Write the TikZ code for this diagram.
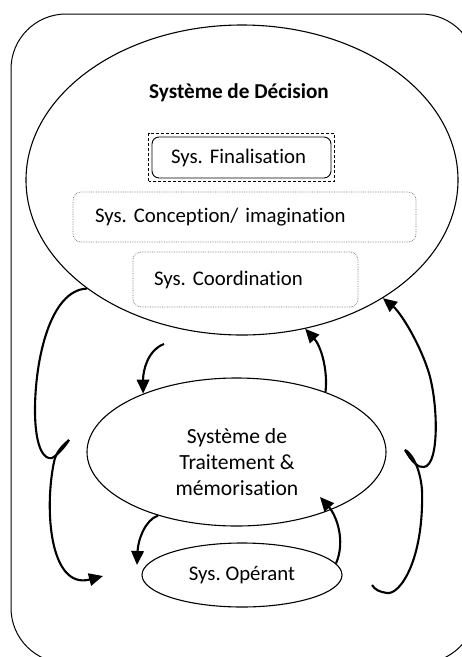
\documentclass[tikz,border=0pt]{standalone}
\usepackage{fontspec}
\setmainfont{Carlito}[Ligatures=NoCommon]
\usetikzlibrary{arrows.meta,shapes.geometric}
\tikzset{
  ell/.style={draw, ellipse, inner sep=0pt, line width=1.1pt},
  grbox/.style={draw=black!55, densely dotted, line width=0.7pt, rounded corners=8pt, align=left, inner ysep=0pt},
  conn/.style={line width=2.1pt},
  arr/.style={line width=2.1pt, -{Triangle[length=14pt,width=12.5pt]}},
  txt/.style={font=\fontsize{20.8}{26}\selectfont},
  bigtxt/.style={font=\fontsize{21.6}{26}\selectfont}
}
\frenchspacing
\begin{document}
\begin{tikzpicture}[x=1pt,y=-1pt]
\useasboundingbox (0,0) rectangle (462,657);
\draw[line width=1pt, rounded corners=55pt] (11,14) rectangle (476,663);
% top ellipse
\node[ell, minimum width=432pt, minimum height=310pt] (dec) at (242,180) {};
\node[font=\fontsize{21.2}{26}\selectfont\bfseries] (title) at (239,93) {Système de Décision};
% boxes
\node[txt, draw, line width=0.9pt, rounded corners=7pt, minimum width=179pt, minimum height=41pt, text width=141pt, inner xsep=19pt, inner ysep=0pt, align=left] (fin) at (241.5,157.5) {Sys. Finalisation};
\draw[densely dashed, line width=0.8pt] ([shift={(-3,3)}]fin.south west) rectangle ([shift={(3,-3)}]fin.north east);
\node[txt, grbox, minimum width=343pt, minimum height=50pt, text width=299pt, inner xsep=22pt] (con) at (244.5,217) {Sys. Conception/ imagination};
\node[txt, grbox, minimum width=225pt, minimum height=55pt, text width=183pt, inner xsep=21pt] (coo) at (245.5,279.5) {Sys. Coordination};
% middle ellipse
\node[ell, minimum width=299pt, minimum height=148pt] (trt) at (236.5,452) {};
\node[bigtxt, align=center] (trttxt) at (237,462.5) {Système de\\Traitement \&\\mémorisation};
% bottom ellipse
\node[ell, txt, minimum width=200pt, minimum height=64pt] (ope) at (242,575) {Sys. Opérant};
% free ends
\coordinate (a1s) at (164,344);
\coordinate (a3e) at (137,565);
\coordinate (a4e) at (320,497);
\coordinate (hl) at (69,440);
\coordinate (a5e) at (103,576);
\coordinate (hr) at (405,450);
\coordinate (a6s) at (372,585);
% inner arrows
\draw[arr] (a1s) .. controls (148,350) and (143,370) .. (trt.148);
\draw[arr] (trt.34) .. controls (328,370) and (321,346) .. (dec.-67.7);
\draw[arr] (trt.-141) .. controls (145,520) and (138,540) .. (a3e);
\draw[arr] (ope.7) .. controls (346,540) and (336,515) .. (a4e);
% left loop
\draw[conn] (dec.-145) .. controls (50,290) and (35,360) .. (35,410) .. controls (35,450) and (45,460) .. (52,458) .. controls (58,455) and (66,445) .. (hl);
\draw[arr] (hl) .. controls (62,446) and (56,452) .. (54,462) .. controls (44,510) and (50,590) .. (a5e);
% right loop
\draw[arr] (hr) .. controls (412,462) and (418,468) .. (424,467) .. controls (440,465) and (438,400) .. (428,370) .. controls (418,340) and (400,312) .. (dec.-40.4);
\draw[conn] (hr) .. controls (410,452) and (420,465) .. (422,490) .. controls (424,560) and (400,595) .. (387,593) .. controls (380,592) and (375,590) .. (a6s);
\end{tikzpicture}
\end{document}
